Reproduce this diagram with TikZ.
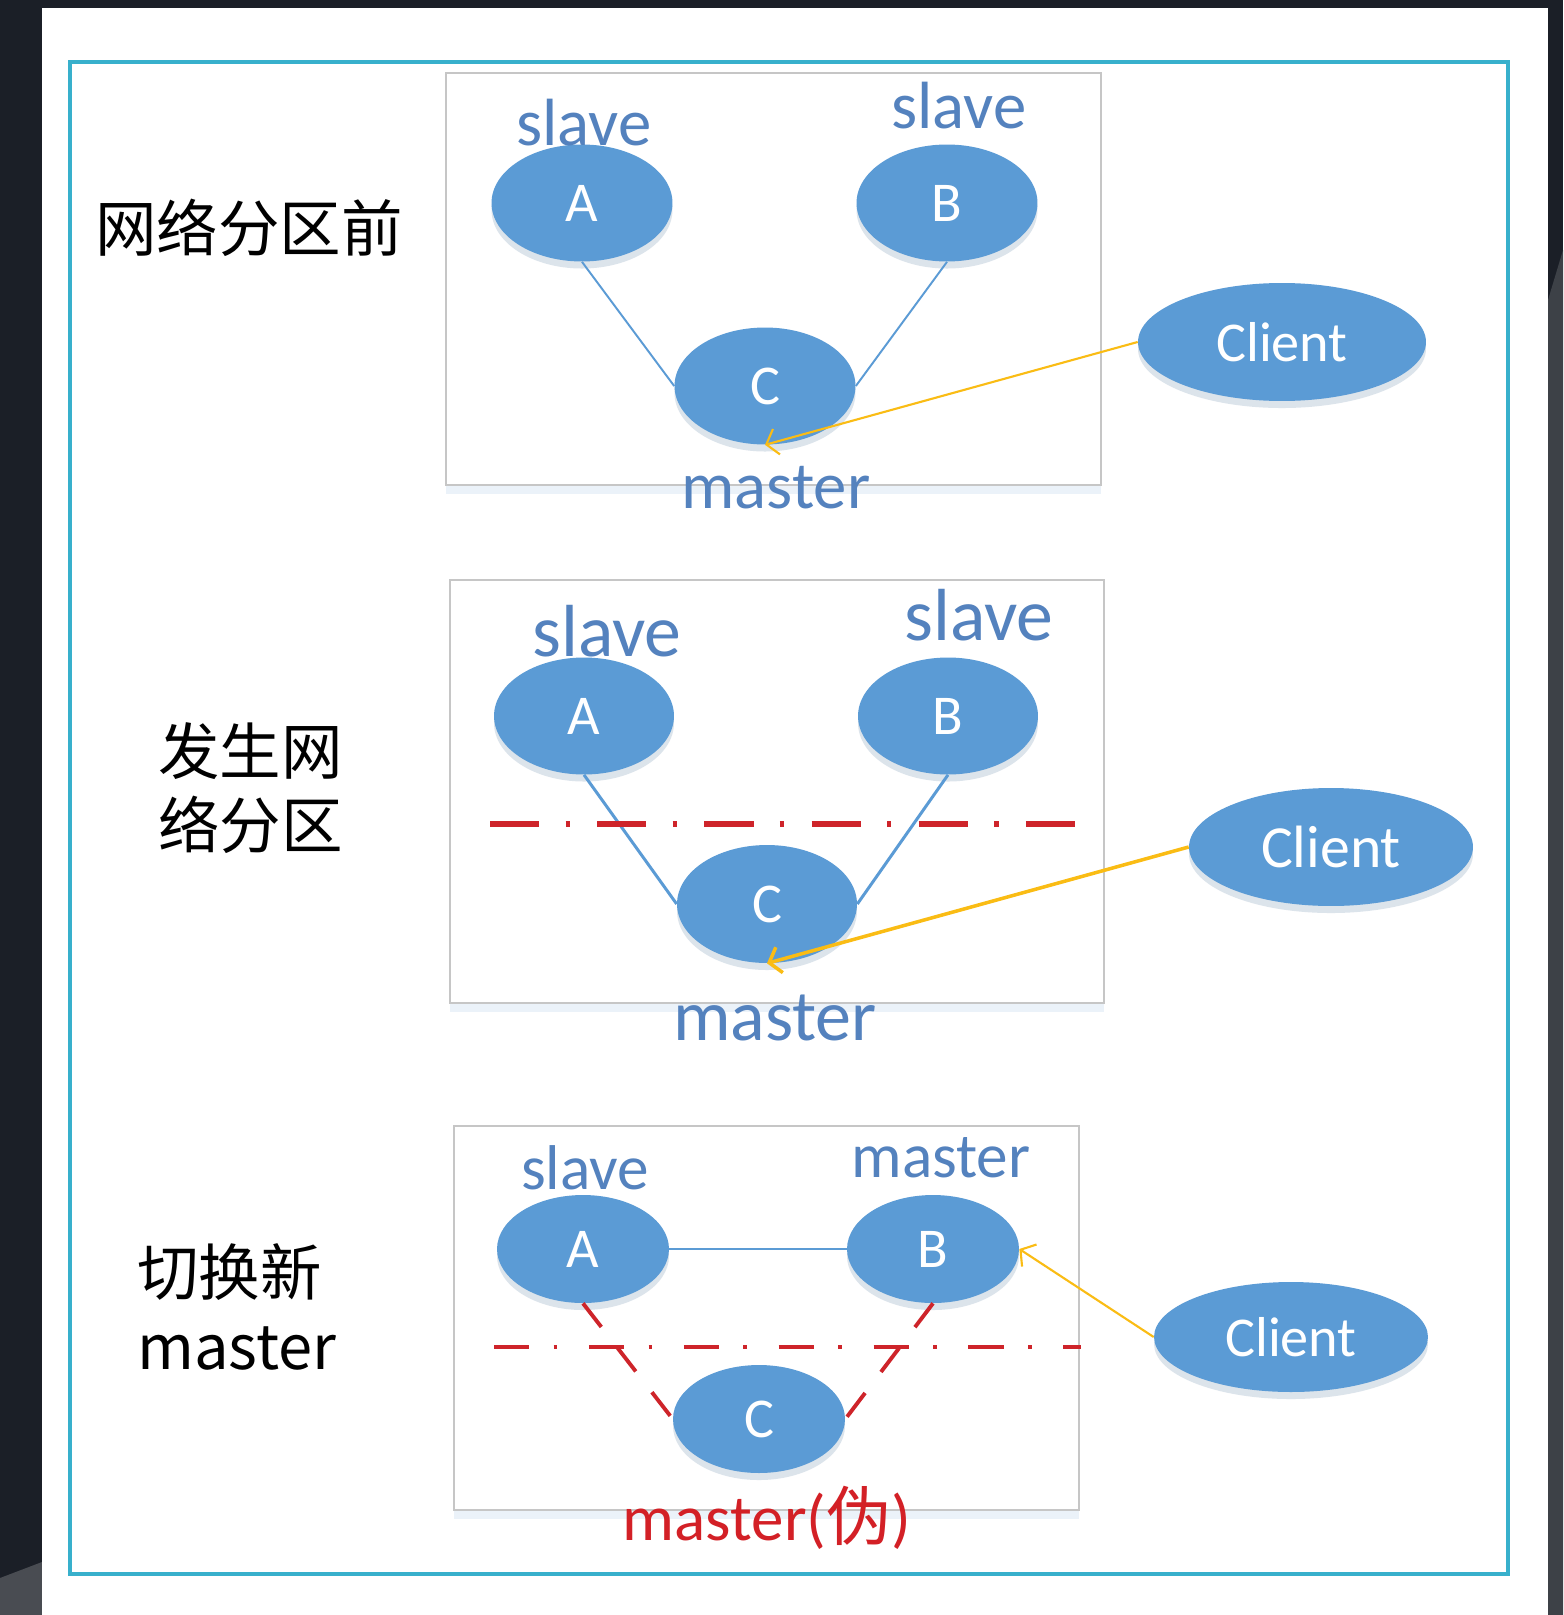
\documentclass[tikz,border=0pt]{standalone}
\usepackage{fontspec}
\usepackage{tikz}
\usetikzlibrary{shapes.geometric,arrows.meta,shadows}
\newfontfamily\cjk{Noto Sans CJK SC}
\newfontfamily\lbl{Carlito}
\definecolor{nodeblue}{RGB}{91,155,213}
\definecolor{textblue}{RGB}{84,130,190}
\definecolor{linkyellow}{RGB}{250,188,20}
\definecolor{cutred}{RGB}{206,36,42}
\definecolor{framecyan}{RGB}{56,176,204}
\definecolor{slidedark}{RGB}{27,31,39}

\begin{document}
\begin{tikzpicture}[x=0.02cm,y=-0.02cm,
  nodestyle/.style={ellipse,fill=nodeblue,text=white,inner sep=0pt,minimum width=3.62cm,minimum height=2.34cm,
    font=\lbl\fontsize{32}{32}\selectfont,
    drop shadow={shadow xshift=0pt,shadow yshift=-4pt,opacity=0.18,fill=nodeblue!70!black}},
  clientstyle/.style={nodestyle,minimum width=5.76cm,minimum height=2.36cm},
  rolestyle/.style={text=textblue,anchor=base,inner sep=0pt,font=\lbl\fontsize{38}{38}\selectfont},
  cjkstyle/.style={inner sep=0pt,font=\cjk\fontsize{35}{42}\selectfont},
  panelbox/.style={draw=gray!45,line width=1pt,fill=white,
    drop shadow={shadow xshift=0pt,shadow yshift=-5pt,opacity=0.12,fill=nodeblue}},
  linkstyle/.style={draw=nodeblue,line width=1.1pt},
  callstyle/.style={draw=linkyellow,line width=1.2pt,-{Straight Barb[length=6pt,width=15pt]}},
  cutline/.style={cutred,line width=3pt,dash pattern=on 28pt off 15pt on 2.5pt off 15.5pt},
  brokenstyle/.style={cutred,line width=2.2pt,dash pattern=on 17pt off 15pt}]

 \useasboundingbox (0,0) rectangle (1563,1615);
 \fill[slidedark] (0,0) rectangle (1563,1615);
 \fill[slidedark!85!white] (1548,300) -- (1563,250) -- (1563,1615) -- (1548,1615) -- cycle;
 \fill[slidedark!80!white] (0,1578) -- (42,1562) -- (42,1615) -- (0,1615) -- cycle;
 \fill[white] (42,8) rectangle (1548,1615);
 \draw[framecyan,line width=2.3pt] (70,62) rectangle (1508,1574);

 \foreach \l/\t/\r/\b in {446/73/1101/485, 450/580/1104/1003, 454/1126/1079/1510}
   \draw[panelbox] (\l,\t) rectangle (\r,\b);

 % before the partition
 \node[cjkstyle] (title1) at (249,228) {网络分区前};
 \node[nodestyle] (a1) at (582,203) {A};
 \node[nodestyle] (b1) at (947,203) {B};
 \node[nodestyle] (c1) at (765,386) {C};
 \node[clientstyle] (client1) at (1282,342) {Client};
 \node[rolestyle] (roleA1) at (584,146) {slave};
 \node[rolestyle] (roleB1) at (959,129) {slave};
 \node[rolestyle] (roleC1) at (776,508) {master};
 \draw[linkstyle] (a1.south) -- (c1.west);
 \draw[linkstyle] (b1.south) -- (c1.east);
 \draw[callstyle] (client1.west) -- (c1.south);

 % partition
 \node[cjkstyle,anchor=west,align=left] (title2) at (158,788) {发生网\\络分区};
 \node[nodestyle,minimum width=3.6cm,minimum height=2.34cm] (a2) at (584,716) {A};
 \node[nodestyle,minimum width=3.6cm,minimum height=2.34cm] (b2) at (948,716) {B};
 \node[nodestyle,minimum width=3.6cm,minimum height=2.36cm] (c2) at (767,904) {C};
 \node[clientstyle,minimum width=5.68cm,font=\lbl\fontsize{34}{34}\selectfont] (client2) at (1331,847) {Client};
 \node[rolestyle,font=\lbl\fontsize{42}{42}\selectfont] (roleA2) at (607,656) {slave};
 \node[rolestyle,font=\lbl\fontsize{42}{42}\selectfont] (roleB2) at (979,640) {slave};
 \node[rolestyle,font=\lbl\fontsize{41}{41}\selectfont] (roleC2) at (775,1040) {master};
 \draw[linkstyle,line width=1.7pt] (a2.south) -- (c2.west);
 \draw[linkstyle,line width=1.7pt] (b2.south) -- (c2.east);
 \draw[callstyle,line width=2pt] (client2.west) -- (c2.south);
 \coordinate (cutL2) at (490,824);
 \coordinate (cutR2) at (1080,824);
 \draw[cutline] (cutL2) -- (cutR2);

 % new master
 \node[cjkstyle,anchor=west,align=left,font=\cjk\fontsize{35}{42}\selectfont] (title3) at (137,1307) {切换新\\master};
 \node[nodestyle,minimum width=3.44cm,minimum height=2.16cm] (a3) at (583,1249) {A};
 \node[nodestyle,minimum width=3.44cm,minimum height=2.16cm] (b3) at (933,1249) {B};
 \node[nodestyle,minimum width=3.44cm,minimum height=2.16cm] (c3) at (759,1419) {C};
 \node[clientstyle,minimum width=5.48cm,minimum height=2.2cm] (client3) at (1291,1337) {Client};
 \node[rolestyle,font=\lbl\fontsize{36}{36}\selectfont] (roleA3) at (585,1189) {slave};
 \node[rolestyle,font=\lbl\fontsize{36}{36}\selectfont] (roleB3) at (941,1177) {master};
 \node[rolestyle,text=cutred!90!red,font=\lbl\fontsize{37}{37}\selectfont] (roleC3) at (767,1540) {master({\cjk 伪})};
 \draw[linkstyle,line width=1.2pt] (a3.east) -- (b3.west);
 \draw[brokenstyle] (a3.south) -- (c3.west);
 \draw[brokenstyle] (b3.south) -- (c3.east);
 \draw[callstyle] (client3.west) -- (b3.east);
 \coordinate (cutL3) at (494,1347);
 \coordinate (cutR3) at (1081,1347);
 \draw[cutline,line width=2.3pt,dash pattern=on 20pt off 14pt on 2pt off 18pt] (cutL3) -- (cutR3);
\end{tikzpicture}
\end{document}
